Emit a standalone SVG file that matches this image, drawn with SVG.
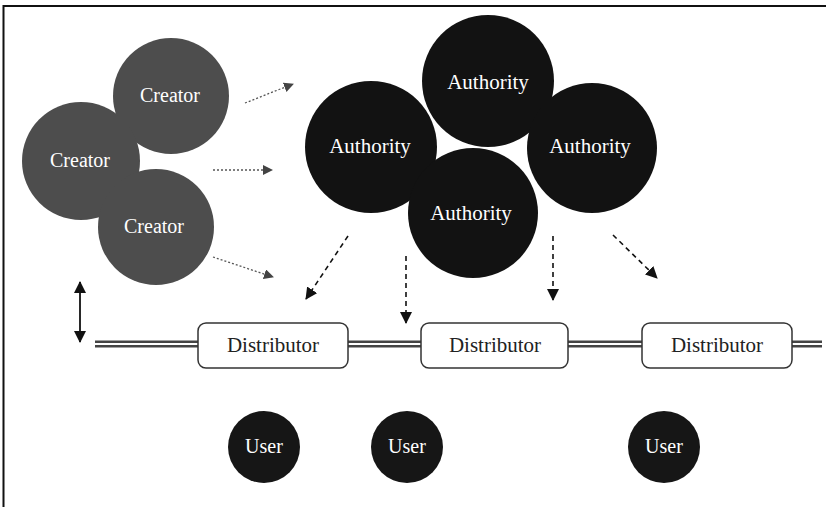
<svg xmlns="http://www.w3.org/2000/svg" width="826" height="507" viewBox="0 0 826 507">
<defs>
<marker id="ahGray" markerWidth="10" markerHeight="10" refX="9" refY="5" orient="auto" markerUnits="userSpaceOnUse">
<path d="M0,0 L10,5 L0,10 Z" fill="#444"/>
</marker>
<marker id="ahBlack" markerWidth="12" markerHeight="12" refX="11" refY="6" orient="auto" markerUnits="userSpaceOnUse">
<path d="M0,0 L12,6 L0,12 Z" fill="#111"/>
</marker>
<marker id="ahSolid" markerWidth="12" markerHeight="12" refX="11" refY="6" orient="auto-start-reverse" markerUnits="userSpaceOnUse">
<path d="M0,0 L12,6 L0,12 Z" fill="#111"/>
</marker>
</defs>
<style>
.creator{fill:#4d4d4d}
.auth{fill:#121212}
.user{fill:#161616}
.lbl{font-family:"Liberation Serif","Times New Roman",serif;text-anchor:middle;fill:#fff}
.dist{fill:#fff;stroke:#333;stroke-width:1.5}
.dlbl{font-family:"Liberation Serif","Times New Roman",serif;text-anchor:middle;fill:#222;font-size:21px}
.dotted{stroke:#555;stroke-width:1.3;stroke-dasharray:2 2;fill:none;marker-end:url(#ahGray)}
.dashed{stroke:#111;stroke-width:1.6;stroke-dasharray:5 4;fill:none;marker-end:url(#ahBlack)}
</style>
<rect width="826" height="507" fill="#fff"/>
<path d="M3.5,507 V6 H826" fill="none" stroke="#111" stroke-width="2"/>

<g id="bus">
<line x1="95" y1="344" x2="822" y2="344" stroke="#444" stroke-width="7"/>
<line x1="95" y1="344" x2="822" y2="344" stroke="#fff" stroke-width="2.2"/>
</g>

<g id="connectors">
<line class="dotted" x1="245" y1="103" x2="293" y2="84"/>
<line class="dotted" x1="213" y1="170" x2="272" y2="170"/>
<line class="dotted" x1="213" y1="257" x2="273" y2="277"/>
<line class="dashed" x1="348" y1="236" x2="306" y2="299"/>
<line class="dashed" x1="406" y1="256" x2="406" y2="323"/>
<line class="dashed" x1="553" y1="236" x2="553" y2="300"/>
<line class="dashed" x1="613" y1="235" x2="657" y2="278"/>
<line x1="80" y1="282" x2="80" y2="342" stroke="#111" stroke-width="1.8" marker-start="url(#ahSolid)" marker-end="url(#ahSolid)"/>
</g>

<g id="creator-top"><circle class="creator" cx="171" cy="96" r="58"/><text class="lbl" x="170" y="102" font-size="20">Creator</text></g>
<g id="creator-left"><circle class="creator" cx="81" cy="161" r="59"/><text class="lbl" x="80" y="167" font-size="20">Creator</text></g>
<g id="creator-bottom"><circle class="creator" cx="156" cy="227" r="58"/><text class="lbl" x="154" y="233" font-size="20">Creator</text></g>

<g id="authority-top"><circle class="auth" cx="488" cy="81" r="66"/><text class="lbl" x="488" y="89" font-size="21">Authority</text></g>
<g id="authority-left"><circle class="auth" cx="371" cy="147" r="66"/><text class="lbl" x="370" y="153" font-size="21">Authority</text></g>
<g id="authority-right"><circle class="auth" cx="592" cy="148" r="65"/><text class="lbl" x="590" y="153" font-size="21">Authority</text></g>
<g id="authority-bottom"><circle class="auth" cx="473" cy="213" r="65"/><text class="lbl" x="471" y="220" font-size="21">Authority</text></g>

<g id="distributor-1"><rect class="dist" x="198" y="323" width="150" height="45" rx="8"/><text class="dlbl" x="273" y="352">Distributor</text></g>
<g id="distributor-2"><rect class="dist" x="421" y="323" width="147" height="45" rx="8"/><text class="dlbl" x="495" y="352">Distributor</text></g>
<g id="distributor-3"><rect class="dist" x="642" y="323" width="150" height="45" rx="8"/><text class="dlbl" x="717" y="352">Distributor</text></g>

<g id="user-1"><circle class="user" cx="264" cy="447" r="36"/><text class="lbl" x="264" y="453" font-size="20">User</text></g>
<g id="user-2"><circle class="user" cx="407" cy="447" r="36"/><text class="lbl" x="407" y="453" font-size="20">User</text></g>
<g id="user-3"><circle class="user" cx="664" cy="447" r="36"/><text class="lbl" x="664" y="453" font-size="20">User</text></g>
</svg>
